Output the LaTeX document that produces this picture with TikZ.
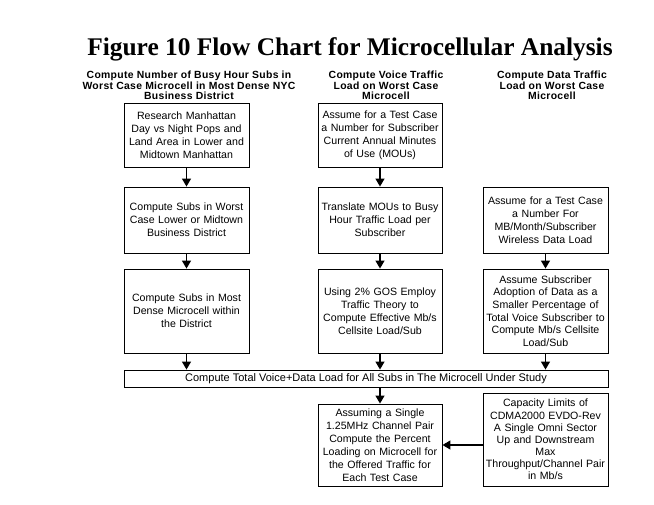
\documentclass[tikz,border=0pt]{standalone}
\usepackage{fontspec}
\setmainfont{Liberation Sans}
\newfontfamily\titlefont{Liberation Serif}
\newfontfamily\headfont[LetterSpace=3]{Liberation Sans}
\usetikzlibrary{arrows.meta}
\begin{document}
\begin{tikzpicture}[x=1pt,y=-1pt,
  box/.style 2 args={draw, line width=0.9pt, minimum width=#1pt, minimum height=#2pt,
    text width=122pt, inner sep=1pt, align=center,
    font=\fontsize{10.6}{12.9}\selectfont},
  head/.style={align=center, inner sep=0pt, font=\headfont\bfseries\fontsize{10.4}{10.6}\selectfont},
  arr/.style={line width=1.3pt, -{Triangle[length=8pt,width=9pt]}}]
\useasboundingbox (0,0) rectangle (654,504);
\node[font=\titlefont\bfseries\fontsize{25.4}{28}\selectfont, anchor=base, inner sep=0pt] (title) at (350,55) {Figure 10 Flow Chart for Microcellular Analysis};
\node[head, anchor=north] (h1) at (189,71) {Compute Number of Busy Hour Subs in\\Worst Case Microcell in Most Dense NYC\\Business District};
\node[head, anchor=north] (h2) at (386,71) {Compute Voice Traffic\\Load on Worst Case\\Microcell};
\node[head, anchor=north] (h3) at (552,71) {Compute Data Traffic\\Load on Worst Case\\Microcell};

\node[box={125}{64}] (l1) at (186.5,135) {Research Manhattan\\Day vs Night Pops and\\Land Area in Lower and\\Midtown Manhattan};
\node[box={125}{66}] (l2) at (186.5,220) {Compute Subs in Worst\\Case Lower or Midtown\\Business District};
\node[box={125}{84}] (l3) at (186.5,311) {Compute Subs in Most\\Dense Microcell within\\the District};

\node[box={124}{64}] (m1) at (380,135) {Assume for a Test Case\\a Number for Subscriber\\Current Annual Minutes\\of Use (MOUs)};
\node[box={124}{66}] (m2) at (380,220) {Translate MOUs to Busy\\Hour Traffic Load per\\Subscriber};
\node[box={124}{84}] (m3) at (380,311) {Using 2\% GOS Employ\\Traffic Theory to\\Compute Effective Mb/s\\Cellsite Load/Sub};

\node[box={125}{66}] (r1) at (545.5,220) {Assume for a Test Case\\a Number For\\MB/Month/Subscriber\\Wireless Data Load};
\node[box={125}{84}, font=\fontsize{10.6}{12.6}\selectfont] (r2) at (545.5,311) {Assume Subscriber\\Adoption of Data as a\\Smaller Percentage of\\Total Voice Subscriber to\\Compute Mb/s Cellsite\\Load/Sub};

\node[draw, line width=0.9pt, minimum width=484pt, minimum height=17pt, inner sep=0pt, font=\fontsize{11}{12.9}\selectfont] (w) at (366,378.5) {Compute Total Voice+Data Load for All Subs in The Microcell Under Study};

\node[box={124}{82}] (b1) at (380,445) {Assuming a Single\\1.25MHz Channel Pair\\Compute the Percent\\Loading on Microcell for\\the Offered Traffic for\\Each Test Case};
\node[box={125}{93}, font=\fontsize{10.6}{12.1}\selectfont] (b2) at (545.5,439.5) {Capacity Limits of\\CDMA2000 EVDO-Rev\\A Single Omni Sector\\Up and Downstream\\Max\\Throughput/Channel Pair\\in Mb/s};

\draw[arr] (l1) -- (l2);
\draw[arr] (l2) -- (l3);
\draw[arr] (m1) -- (m2);
\draw[arr] (m2) -- (m3);
\draw[arr] (r1) -- (r2);
\draw[arr] (l3.south) -- (l3.south |- w.north);
\draw[arr] (m3.south) -- (m3.south |- w.north);
\draw[arr] (r2.south) -- (r2.south |- w.north);
\draw[arr] (b1.north |- w.south) -- (b1.north);
\draw[arr] (b2.west |- b1.east) -- (b1.east);
\end{tikzpicture}
\end{document}
